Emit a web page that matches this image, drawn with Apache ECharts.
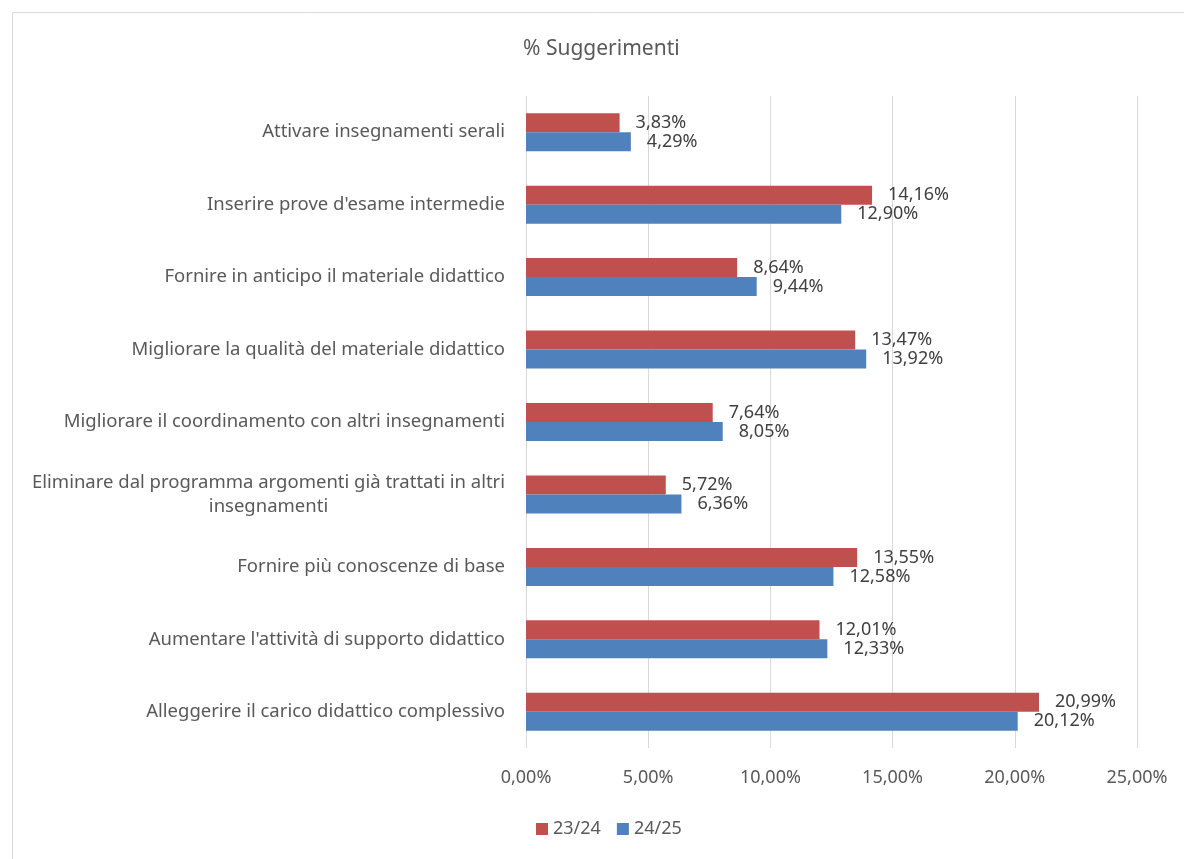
<!DOCTYPE html>
<html>
<head>
<meta charset="utf-8">
<title>% Suggerimenti</title>
<script src="https://cdn.jsdelivr.net/npm/echarts@6/dist/echarts.min.js"></script>
<style>
  html, body { margin: 0; padding: 0; background: #fff; }
  #chart { width: 1184px; height: 859px; }
</style>
</head>
<body>
<div id="chart"></div>
<script>
// categories from top to bottom
var categories = [
  'Attivare insegnamenti serali',
  "Inserire prove d'esame intermedie",
  'Fornire in anticipo il materiale didattico',
  'Migliorare la qualità del materiale didattico',
  'Migliorare il coordinamento con altri insegnamenti',
  'Eliminare dal programma argomenti già trattati in altri insegnamenti',
  'Fornire più conoscenze di base',
  "Aumentare l'attività di supporto didattico",
  'Alleggerire il carico didattico complessivo'
];
var values2324 = [3.83, 14.16, 8.64, 13.47, 7.64, 5.72, 13.55, 12.01, 20.99];
var values2425 = [4.29, 12.90, 9.44, 13.92, 8.05, 6.36, 12.58, 12.33, 20.12];
var seriesNames = ['23/24', '24/25'];

var font = 'Noto Sans';
var catFontSize = 18.5;

function pct(v) {
  return v.toFixed(2).replace('.', ',') + '%';
}

// wrap long category names, lines centred like Excel does
var measureCtx = document.createElement('canvas').getContext('2d');
function wrapLabel(text, maxWidth) {
  measureCtx.font = catFontSize + 'px "' + font + '"';
  var words = text.split(' ');
  var lines = [];
  var line = '';
  words.forEach(function (w) {
    var test = line ? line + ' ' + w : w;
    if (line && measureCtx.measureText(test).width > maxWidth) {
      lines.push(line);
      line = w;
    } else {
      line = test;
    }
  });
  lines.push(line);
  return lines.map(function (l) { return '{c|' + l + '}'; }).join('\n');
}

var chart = echarts.init(document.getElementById('chart'));

chart.setOption({
  animation: false,
  textStyle: { fontFamily: font },
  color: ['#C0504D', '#4F81BD'],
  graphic: [{
    type: 'rect',
    shape: { x: 12.5, y: 12.5, width: 1200, height: 900 },
    style: { fill: 'none', stroke: '#d9d9d9', lineWidth: 1 },
    silent: true
  }],
  title: {
    text: '% Suggerimenti',
    left: 518,
    top: 34,
    textStyle: { fontFamily: font, fontSize: 21, fontWeight: 'normal', color: '#595959' }
  },
  legend: {
    data: seriesNames,
    left: 531,
    top: 815,
    itemWidth: 12,
    itemHeight: 12,
    itemGap: 16,
    icon: 'rect',
    textStyle: { fontFamily: font, fontSize: 18, color: '#595959' }
  },
  grid: { left: 526, right: 47, top: 96, bottom: 111, containLabel: false },
  xAxis: {
    type: 'value',
    min: 0,
    max: 25,
    interval: 5,
    axisLine: { show: false },
    axisTick: { show: false },
    splitLine: { lineStyle: { color: '#d9d9d9', width: 1 } },
    axisLabel: {
      margin: 21,
      formatter: function (v) { return pct(v); },
      fontFamily: font, fontSize: 18, color: '#595959'
    }
  },
  yAxis: {
    type: 'category',
    inverse: true,
    data: categories,
    axisLine: { show: false },
    axisTick: { show: false },
    axisLabel: {
      margin: 21,
      formatter: function (v) { return wrapLabel(v, 485); },
      rich: {
        c: {
          align: 'center',
          lineHeight: 24,
          fontFamily: font, fontSize: catFontSize, color: '#595959'
        }
      },
      fontFamily: font, fontSize: catFontSize, color: '#595959'
    }
  },
  series: [
    {
      name: seriesNames[0],
      type: 'bar',
      data: values2324,
      barWidth: 19,
      barGap: '0%',
      label: {
        show: true, position: 'right', distance: 16,
        formatter: function (p) { return pct(p.value); },
        fontFamily: font, fontSize: 18, color: '#404040'
      }
    },
    {
      name: seriesNames[1],
      type: 'bar',
      data: values2425,
      barWidth: 19,
      barGap: '0%',
      label: {
        show: true, position: 'right', distance: 16,
        formatter: function (p) { return pct(p.value); },
        fontFamily: font, fontSize: 18, color: '#404040'
      }
    }
  ]
});
</script>
</body>
</html>
